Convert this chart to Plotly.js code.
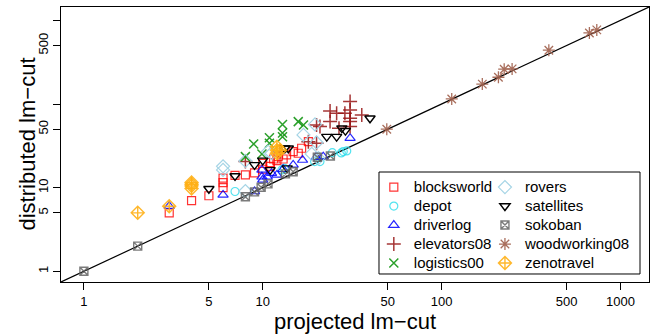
<!DOCTYPE html>
<html>
<head>
<meta charset="utf-8">
<script src="https://cdn.plot.ly/plotly-3.0.1.min.js"></script>
<style>html,body{margin:0;padding:0;background:#fff;}#chart{width:657px;height:334px;}</style>
</head>
<body>
<div id="chart"></div>
<script>
// ---- data (projected lm-cut vs distributed lm-cut) ----
const blocksworldX = [3, 4, 5, 6, 6, 6, 7, 8, 9, 10, 10, 11, 11, 11.5, 12, 12.2, 13, 13.6, 14.8, 15.8, 16.5, 18];
const blocksworldY = [5, 7, 8, 10, 11.5, 13, 14, 14.2, 15, 16.6, 19.5, 18, 20, 22, 21, 23.5, 22, 24.6, 27, 25.8, 29.6, 35.5];
const depotX = [7, 12.8, 13.2, 19.5, 20.9, 24.5, 27.5, 28.2, 29.5];
const depotY = [9, 16.3, 17, 20.5, 20.5, 26.2, 26, 27, 27.5];
const driverlogX = [3, 6, 9, 9.9, 9.9, 10, 10.6, 11.2, 12, 13, 14.8, 16.7, 19.9, 21.8, 30.8];
const driverlogY = [6, 8.2, 9, 16.3, 13.5, 12.4, 13.5, 14.9, 14.2, 16.6, 18.7, 21.4, 23.1, 23.5, 39];
const elevators08X = [30.8, 23.8, 25.9, 28.8, 30.8, 30.8, 30.8, 30.8, 35.8, 23.8, 20, 20.9, 26.7, 18, 20, 8, 12.5];
const elevators08Y = [107, 82.7, 77.6, 77.6, 85, 67.6, 61.6, 53.7, 74.1, 61.6, 56.2, 53.7, 51.4, 35.5, 34, 20.5, 27];
const logistics00X = [12.9, 12.9, 12.9, 15.8, 16.9, 10.9, 10.9, 8.9, 8, 9.9];
const logistics00Y = [57, 45.1, 40.7, 61.6, 56.2, 39.6, 34, 33.3, 23.5, 25.3];
const roversX = [6, 6, 8, 8, 10.7, 11.2, 16.9, 19.6, 20, 18.8, 20.5];
const roversY = [16.3, 18, 20.9, 9.1, 27, 25.8, 42.7, 57, 34.7, 25.3, 22.5];
const satellitesX = [5, 7, 9, 10, 11, 13.3, 13.9, 13.7, 22.8, 25.9, 27.7, 29, 39.8];
const satellitesY = [9.7, 13.8, 18.7, 21.2, 16.3, 29.6, 29.6, 17.1, 40.7, 40.7, 51.4, 48, 67.6];
const sokobanX = [1, 2, 8, 9, 9.8, 10.7, 13.4, 14.8, 20.2, 23.9];
const sokobanY = [1, 2, 7.8, 8.9, 10.1, 11.1, 14.6, 15.5, 23.1, 23.9];
const woodworking08X = [49.4, 114, 169, 208, 224, 248, 398, 671, 738];
const woodworking08Y = [50, 115, 173, 209, 261, 263, 440, 708, 770];
const zenotravelX = [2, 3, 4, 4, 4, 4, 12, 12, 12, 12.5];
const zenotravelY = [5, 6, 9.8, 10.5, 11, 11.5, 25.8, 28, 30.9, 28];
const diagonal = [0.1, 10000];

const xTickVals = [1, 5, 10, 50, 100, 500, 1000];
const xTickText = ['1', '5', '10', '50', '100', '500', '1000'];
const yTickVals = [1, 5, 10, 50, 100, 500, 1000];
const yTickText = ['1', '5', '10', '50', '', '500', ''];

function series(name, x, y, symbol, color, size, legend, lw) {
  return {
    type: 'scatter', mode: 'markers', name: '<span style="font-size:15px">' + name + '</span>',
    x: x, y: y, legend: legend,
    marker: {symbol: symbol, size: size, color: color, line: {color: color, width: lw || 1.2}}
  };
}

const traces = [
  {type: 'scatter', mode: 'lines', x: diagonal, y: diagonal, showlegend: false,
   line: {color: '#000', width: 1.2}, hoverinfo: 'skip'},
  series('blocksworld', blocksworldX, blocksworldY, 'square-open', 'rgba(255,0,0,0.8)', 8, 'legend'),
  series('depot', depotX, depotY, 'circle-open', 'rgba(40,220,235,0.8)', 8, 'legend'),
  series('driverlog', driverlogX, driverlogY, 'triangle-up-open', 'rgba(0,0,255,0.85)', 9, 'legend'),
  series('elevators08', elevators08X, elevators08Y, 'cross-thin-open', 'rgba(150,20,20,0.85)', 10, 'legend', 1.5),
  series('logistics00', logistics00X, logistics00Y, 'x-thin-open', 'rgba(20,150,20,0.9)', 9, 'legend', 1.5),
  series('rovers', roversX, roversY, 'diamond-open', 'rgba(160,210,228,0.95)', 10, 'legend2'),
  series('satellites', satellitesX, satellitesY, 'triangle-down-open', '#000000', 9, 'legend2', 1.4),
  series('sokoban', sokobanX, sokobanY, 'square-x-open', 'rgba(100,100,100,0.85)', 8, 'legend2', 1.4),
  series('woodworking08', woodworking08X, woodworking08Y, 'asterisk-open', 'rgba(160,95,75,0.9)', 10, 'legend2', 1.3),
  series('zenotravel', zenotravelX, zenotravelY, 'diamond-cross-open', 'rgba(255,175,20,0.9)', 10, 'legend2', 1.4)
];

const axisCommon = {
  type: 'log', range: [-0.128, 3.16], showgrid: false, zeroline: false,
  showline: true, mirror: true, linecolor: '#000', linewidth: 1,
  ticks: 'outside', ticklen: 7, tickwidth: 1, tickcolor: '#000',
  tickfont: {family: 'Liberation Sans, Arial, sans-serif', size: 13, color: '#000'}
};

const layout = {
  width: 657, height: 334,
  margin: {l: 61, r: 8, t: 7, b: 52, autoexpand: false},
  paper_bgcolor: '#fff', plot_bgcolor: '#fff',
  font: {family: 'Liberation Sans, Arial, sans-serif', color: '#000'},
  showlegend: true,
  xaxis: Object.assign({}, axisCommon, {
    tickmode: 'array', tickvals: xTickVals, ticktext: xTickText,
    title: {text: 'projected lm\u2212cut', font: {size: 22, color: '#000'}, standoff: 6}
  }),
  yaxis: Object.assign({}, axisCommon, {
    tickmode: 'array', tickvals: yTickVals, ticktext: yTickText, tickangle: -90
  }),
  annotations: [{
    text: 'distributed lm\u2212cut', xref: 'paper', yref: 'paper', x: 0, y: 0.5,
    xanchor: 'center', yanchor: 'middle', xshift: -34, textangle: -90, showarrow: false,
    font: {size: 22, color: '#000'}
  }],
  legend: {x: 0.532, y: 0.398, xanchor: 'left', yanchor: 'top', bgcolor: 'rgba(0,0,0,0)',
           borderwidth: 0, font: {size: 12, color: '#000'}, itemclick: false},
  legend2: {x: 0.721, y: 0.398, xanchor: 'left', yanchor: 'top', bgcolor: 'rgba(0,0,0,0)',
            borderwidth: 0, font: {size: 12, color: '#000'}, itemclick: false},
  shapes: [{type: 'rect', xref: 'paper', yref: 'paper', x0: 0.5408, x1: 0.9847, y0: 0.0291, y1: 0.4,
            fillcolor: '#fff', line: {color: '#000', width: 1}, layer: 'above'}]
};

Plotly.newPlot('chart', traces, layout, {staticPlot: true, displayModeBar: false});
</script>
</body>
</html>
